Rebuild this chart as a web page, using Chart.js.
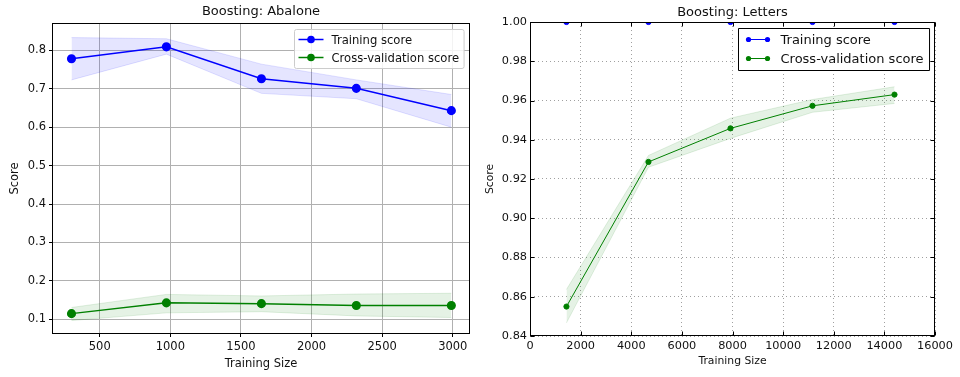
<!DOCTYPE html>
<html>
<head>
<meta charset="utf-8">
<script src="https://cdn.jsdelivr.net/npm/chart.js@4/dist/chart.umd.min.js"></script>
<style>
body{margin:0;background:#fff;}
.box{position:absolute;top:0;width:480px;height:377px;}
</style>
</head>
<body>
<div class="box" style="left:0"><canvas id="abalone"></canvas></div>
<div class="box" style="left:480px"><canvas id="letters"></canvas></div>
<script>
// Boosting: Abalone
const abaloneSizes = [300, 972, 1645, 2317, 2990];
const abaloneTrain = [0.778, 0.809, 0.726, 0.701, 0.643];
const abaloneTrainHi = [0.833, 0.830, 0.764, 0.723, 0.685];
const abaloneTrainLo = [0.723, 0.790, 0.688, 0.674, 0.600];
const abaloneCv = [0.115, 0.143, 0.141, 0.136, 0.136];
const abaloneCvHi = [0.131, 0.165, 0.161, 0.166, 0.168];
const abaloneCvLo = [0.097, 0.117, 0.120, 0.109, 0.105];
const abaloneXTicks = [500, 1000, 1500, 2000, 2500, 3000];
const abaloneYTicks = [0.1, 0.2, 0.3, 0.4, 0.5, 0.6, 0.7, 0.8];

// Boosting: Letters
const lettersSizes = [1440, 4680, 7920, 11160, 14400];
const lettersTrain = [1.0, 1.0, 1.0, 1.0, 1.0];
const lettersCv = [0.855, 0.9287, 0.9458, 0.9573, 0.963];
const lettersCvHi = [0.8637, 0.932, 0.951, 0.9605, 0.967];
const lettersCvLo = [0.8467, 0.926, 0.9407, 0.954, 0.9585];
const lettersXTicks = [0, 2000, 4000, 6000, 8000, 10000, 12000, 14000, 16000];
const lettersYTicks = [0.84, 0.86, 0.88, 0.90, 0.92, 0.94, 0.96, 0.98, 1.00];

const seriesNames = ["Training score", "Cross-validation score"];

Chart.defaults.font.family = "'DejaVu Sans', sans-serif";
Chart.defaults.color = "#111";

function pts(xs, ys){
  return xs.map((x, i) => ({x: x, y: ys[i]}));
}

function band(xs, ys, color, fill){
  return {data: pts(xs, ys), borderColor: color.replace("A", "0.15"), backgroundColor: color.replace("A", "0.1"),
    borderWidth: 0.8, pointRadius: 0, fill: fill, order: 5, clip: 0, legend: false};
}

// title, frame, inner ticks and in-plot legend
const decor = {
  id: "decor",
  afterDraw(chart, args, o){
    const ctx = chart.ctx, a = chart.chartArea;
    ctx.save();
    const l = Math.round(a.left) + 0.5, t = Math.round(a.top) + 0.5;
    const r = Math.round(a.right) - 0.5, b = Math.round(a.bottom) - 0.5;

    if(o.innerTicks){
      ctx.strokeStyle = "#000"; ctx.lineWidth = 1;
      ctx.beginPath();
      chart.scales.x.ticks.forEach(tk => {
        const px = Math.round(chart.scales.x.getPixelForValue(tk.value)) + 0.5;
        ctx.moveTo(px, b); ctx.lineTo(px, b - 4);
        ctx.moveTo(px, t); ctx.lineTo(px, t + 4);
      });
      chart.scales.y.ticks.forEach(tk => {
        const py = Math.round(chart.scales.y.getPixelForValue(tk.value)) + 0.5;
        ctx.moveTo(l, py); ctx.lineTo(l + 4, py);
        ctx.moveTo(r, py); ctx.lineTo(r - 4, py);
      });
      ctx.stroke();
    }

    ctx.strokeStyle = "#000"; ctx.lineWidth = 1;
    ctx.strokeRect(l, t, r - l, b - t);

    ctx.fillStyle = "#111";
    ctx.font = "13px 'DejaVu Sans'";
    ctx.textAlign = "center"; ctx.textBaseline = "middle";
    ctx.fillText(o.title, (a.left + a.right) / 2, o.titleY);

    // legend
    const lg = o.legend;
    const items = chart.data.datasets.filter(d => d.legend);
    ctx.font = lg.size + "px 'DejaVu Sans'";
    let tw = 0;
    items.forEach(d => tw = Math.max(tw, ctx.measureText(d.label).width));
    const w = lg.textX + tw + lg.padR;
    const x0 = Math.round(a.right - 6 - w) + 0.5, y0 = Math.round(a.top + 6) + 0.5;
    ctx.fillStyle = lg.fill;
    ctx.strokeStyle = lg.edge;
    ctx.beginPath();
    if(lg.round) ctx.roundRect(x0, y0, w, lg.h, 2); else ctx.rect(x0, y0, w, lg.h);
    ctx.fill(); ctx.stroke();
    items.forEach((d, i) => {
      const y = y0 + lg.row0 + i * lg.rowH;
      ctx.strokeStyle = d.borderColor; ctx.lineWidth = d.borderWidth;
      ctx.beginPath(); ctx.moveTo(x0 + lg.line0, y); ctx.lineTo(x0 + lg.line1, y); ctx.stroke();
      ctx.fillStyle = d.borderColor;
      const marks = lg.both ? [lg.line0, lg.line1] : [(lg.line0 + lg.line1) / 2];
      marks.forEach(m => { ctx.beginPath(); ctx.arc(x0 + m, y, d.pointRadius, 0, Math.PI * 2); ctx.fill(); });
      ctx.fillStyle = "#111";
      ctx.textAlign = "left"; ctx.textBaseline = "middle";
      ctx.fillText(d.label, x0 + lg.textX, y + 1);
    });
    ctx.restore();
  }
};

function axis(min, max, tickVals, fmt, fit, size, opts){
  return Object.assign({
    type: "linear", min: min, max: max,
    afterBuildTicks: s => { s.ticks = tickVals.map(v => ({value: v})); },
    afterFit: fit,
    ticks: {callback: fmt, font: {size: size}, color: "#111"}
  }, opts);
}

new Chart(document.getElementById("abalone"), {
  type: "line",
  data: {datasets: [
    {label: seriesNames[0], data: pts(abaloneSizes, abaloneTrain), borderColor: "#0000ff", backgroundColor: "#0000ff",
      borderWidth: 1.5, pointRadius: 3.8, pointHoverRadius: 3.8, fill: false, order: 0, clip: 0, legend: true},
    {label: seriesNames[1], data: pts(abaloneSizes, abaloneCv), borderColor: "#008000", backgroundColor: "#008000",
      borderWidth: 1.5, pointRadius: 3.8, pointHoverRadius: 3.8, fill: false, order: 1, clip: 0, legend: true},
    band(abaloneSizes, abaloneTrainHi, "rgba(0,0,255,A)", "+1"),
    band(abaloneSizes, abaloneTrainLo, "rgba(0,0,255,A)", false),
    band(abaloneSizes, abaloneCvHi, "rgba(0,128,0,A)", "+1"),
    band(abaloneSizes, abaloneCvLo, "rgba(0,128,0,A)", false)
  ]},
  options: {
    responsive: true, maintainAspectRatio: false, animation: false,
    layout: {padding: {top: 23, right: 10, left: 0, bottom: 0}},
    scales: {
      x: axis(162, 3122, abaloneXTicks, v => String(v), s => { s.height = 43; }, 11.5, {
        grid: {color: "#b0b0b0", tickColor: "#000", tickLength: 3},
        border: {display: false},
        title: {display: true, text: "Training Size", font: {size: 11.5}, color: "#111", padding: {top: 0, bottom: 6}}
      }),
      y: axis(0.062, 0.871, abaloneYTicks, v => v.toFixed(1), s => { s.width = 52; }, 11.5, {
        grid: {color: "#b0b0b0", tickColor: "#000", tickLength: 3},
        border: {display: false},
        title: {display: true, text: "Score", font: {size: 11.5}, color: "#111", padding: {top: 8, bottom: 0}}
      })
    },
    plugins: {
      legend: {display: false}, tooltip: {enabled: false},
      decor: {title: "Boosting: Abalone", titleY: 12,
        legend: {size: 11.6, textX: 37, padR: 5, h: 39, row0: 10, rowH: 18, line0: 4, line1: 29, both: false,
          fill: "rgba(255,255,255,0.85)", edge: "#cccccc", round: true}}
    }
  },
  plugins: [decor]
});

new Chart(document.getElementById("letters"), {
  type: "line",
  data: {datasets: [
    {label: seriesNames[0], data: pts(lettersSizes, lettersTrain), borderColor: "#0000ff", backgroundColor: "#0000ff",
      borderWidth: 1, pointRadius: 2.6, pointHoverRadius: 2.6, fill: false, order: 0, clip: 0, legend: true},
    {label: seriesNames[1], data: pts(lettersSizes, lettersCv), borderColor: "#008000", backgroundColor: "#008000",
      borderWidth: 1, pointRadius: 2.6, pointHoverRadius: 2.6, fill: false, order: 1, clip: 0, legend: true},
    band(lettersSizes, lettersTrain, "rgba(0,0,255,A)", "+1"),
    band(lettersSizes, lettersTrain, "rgba(0,0,255,A)", false),
    band(lettersSizes, lettersCvHi, "rgba(0,128,0,A)", "+1"),
    band(lettersSizes, lettersCvLo, "rgba(0,128,0,A)", false)
  ]},
  options: {
    responsive: true, maintainAspectRatio: false, animation: false,
    layout: {padding: {top: 22, right: 25, left: 0, bottom: 0}},
    scales: {
      x: axis(0, 16000, lettersXTicks, v => String(v), s => { s.height = 41; }, 11.3, {
        grid: {color: "#a0a0a0", drawTicks: false},
        border: {display: false, dash: [1, 3]},
        title: {display: true, text: "Training Size", font: {size: 10.8}, color: "#111", padding: {top: 0, bottom: 9.5}}
      }),
      y: axis(0.84, 1.0, lettersYTicks, v => v.toFixed(2), s => { s.width = 50; }, 11.3, {
        grid: {color: "#a0a0a0", drawTicks: false},
        border: {display: false, dash: [1, 3]},
        title: {display: true, text: "Score", font: {size: 10.8}, color: "#111", padding: {top: 3.5, bottom: 0}}
      })
    },
    plugins: {
      legend: {display: false}, tooltip: {enabled: false},
      decor: {title: "Boosting: Letters", titleY: 13, innerTicks: true,
        legend: {size: 13, textX: 42, padR: 6, h: 42, row0: 11, rowH: 19, line0: 10, line1: 29, both: true,
          fill: "#ffffff", edge: "#000000", round: false}}
    }
  },
  plugins: [decor]
});
</script>
</body>
</html>
